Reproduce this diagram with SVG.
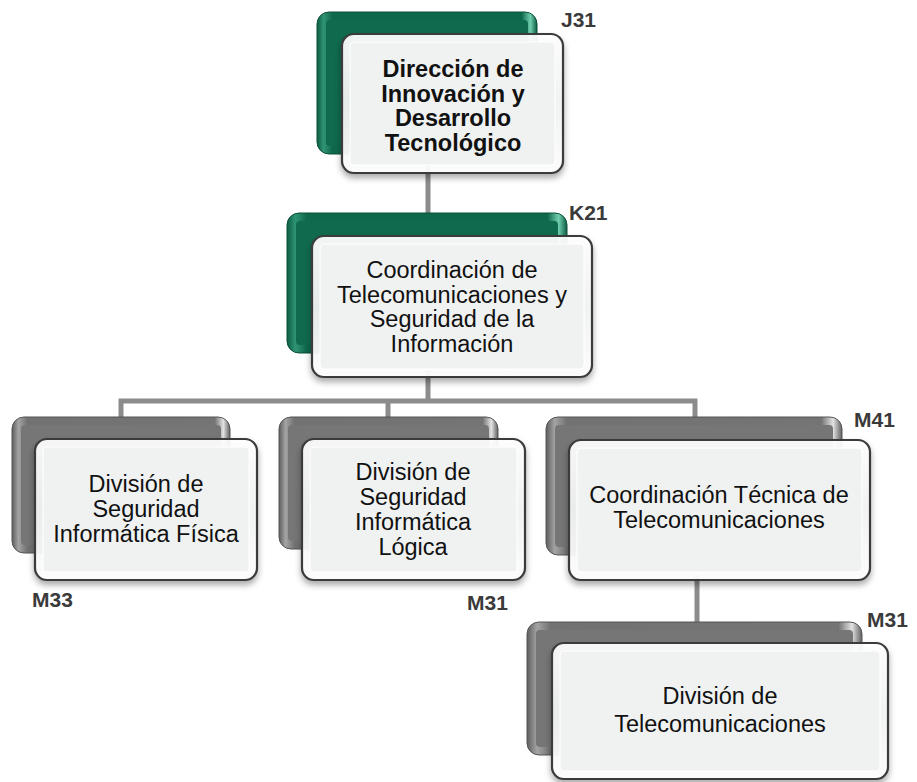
<svg xmlns="http://www.w3.org/2000/svg" width="917" height="782" viewBox="0 0 917 782">
<defs>
<linearGradient id="gGreen" x1="0" y1="0" x2="1" y2="0">
<stop offset="0" stop-color="#0b5c43"/>
<stop offset="0.03" stop-color="#2f9474"/>
<stop offset="0.07" stop-color="#0e684c"/>
<stop offset="0.93" stop-color="#0e684c"/>
<stop offset="0.97" stop-color="#6fcfae"/>
<stop offset="1" stop-color="#0b5c43"/>
</linearGradient>
<linearGradient id="gGray" x1="0" y1="0" x2="1" y2="0">
<stop offset="0" stop-color="#5e5e5e"/>
<stop offset="0.03" stop-color="#a4a4a4"/>
<stop offset="0.07" stop-color="#727272"/>
<stop offset="0.93" stop-color="#747474"/>
<stop offset="0.97" stop-color="#e2e2e2"/>
<stop offset="1" stop-color="#606060"/>
</linearGradient>
<linearGradient id="gFront" x1="0" y1="0" x2="0" y2="1">
<stop offset="0" stop-color="#ffffff"/>
<stop offset="0.5" stop-color="#f3f4f4"/>
<stop offset="1" stop-color="#ffffff"/>
</linearGradient>
<filter id="sh" x="-10%" y="-10%" width="120%" height="130%">
<feDropShadow dx="0" dy="4" stdDeviation="3" flood-color="#000" flood-opacity="0.35"/>
</filter>
</defs>
<style>
.conn{stroke:#8c8c8c;stroke-width:5;fill:none}
.backG{fill:url(#gGreen);stroke:#0a4f3a;stroke-width:1}
.backY{fill:url(#gGray);stroke:#555;stroke-width:1}
.inG{fill:#0f6a4e}
.inY{fill:#767676}
.front{fill:url(#gFront);fill-opacity:0.93;stroke:#3a3a3a;stroke-width:2.2}
.inner{fill:#f0f2f2;stroke:#ffffff;stroke-width:1}
.t{font-family:"Liberation Sans",Arial,sans-serif;font-size:23.5px;fill:#111;text-anchor:middle}
.tb{font-family:"Liberation Sans",Arial,sans-serif;font-size:23.5px;font-weight:bold;fill:#111;text-anchor:middle}
.lbl{font-family:"Liberation Sans",Arial,sans-serif;font-size:21px;font-weight:bold;fill:#3a3a3a}
</style>
<g id="connectors">
<path class="conn" d="M428,150 V240"/>
<path class="conn" d="M428,370 V401 M121,420 V401 H695 V425 M388,401 V425"/>
<path class="conn" d="M697,575 V630"/>
</g>
<g id="j31">
<rect class="backG" x="317" y="12" width="220" height="142" rx="12"/>
<rect class="inG" x="326" y="20" width="202" height="126" rx="4"/>
<g filter="url(#sh)">
<rect class="front" x="342" y="34" width="221" height="139" rx="12"/>
<rect class="inner" x="350" y="42" width="205" height="123" rx="4"/>
</g>
<text class="tb" x="453" y="77">Dirección de</text>
<text class="tb" x="453" y="101.5">Innovación y</text>
<text class="tb" x="453" y="126">Desarrollo</text>
<text class="tb" x="453" y="150.5">Tecnológico</text>
<text class="lbl" x="561" y="27">J31</text>
</g>
<g id="k21">
<rect class="backG" x="287" y="213" width="280" height="140" rx="12"/>
<rect class="inG" x="296" y="221" width="262" height="124" rx="4"/>
<g filter="url(#sh)">
<rect class="front" x="312" y="236" width="280" height="141" rx="12"/>
<rect class="inner" x="320" y="244" width="264" height="125" rx="4"/>
</g>
<text class="t" x="452" y="278">Coordinación de</text>
<text class="t" x="452" y="302.5">Telecomunicaciones y</text>
<text class="t" x="452" y="327">Seguridad de la</text>
<text class="t" x="452" y="351.5">Información</text>
<text class="lbl" x="569" y="220">K21</text>
</g>
<g id="m33">
<rect class="backY" x="12" y="417" width="218" height="136" rx="12"/>
<rect class="inY" x="21" y="425" width="200" height="120" rx="4"/>
<g filter="url(#sh)">
<rect class="front" x="35" y="439" width="222" height="141" rx="12"/>
<rect class="inner" x="43" y="447" width="206" height="125" rx="4"/>
</g>
<text class="t" x="146" y="492">División de</text>
<text class="t" x="146" y="517">Seguridad</text>
<text class="t" x="146" y="542">Informática Física</text>
<text class="lbl" x="32" y="607">M33</text>
</g>
<g id="m31a">
<rect class="backY" x="279" y="417" width="219" height="132" rx="12"/>
<rect class="inY" x="288" y="425" width="201" height="116" rx="4"/>
<g filter="url(#sh)">
<rect class="front" x="302" y="439" width="223" height="141" rx="12"/>
<rect class="inner" x="310" y="447" width="207" height="125" rx="4"/>
</g>
<text class="t" x="413" y="480">División de</text>
<text class="t" x="413" y="505">Seguridad</text>
<text class="t" x="413" y="530">Informática</text>
<text class="t" x="413" y="555">Lógica</text>
<text class="lbl" x="467" y="610">M31</text>
</g>
<g id="m41">
<rect class="backY" x="546" y="417" width="296" height="138" rx="12"/>
<rect class="inY" x="555" y="425" width="278" height="122" rx="4"/>
<g filter="url(#sh)">
<rect class="front" x="569" y="440" width="301" height="140" rx="12"/>
<rect class="inner" x="577" y="448" width="285" height="124" rx="4"/>
</g>
<text class="t" x="719" y="503">Coordinación Técnica de</text>
<text class="t" x="719" y="528">Telecomunicaciones</text>
<text class="lbl" x="854" y="427">M41</text>
</g>
<g id="m31b">
<rect class="backY" x="527" y="622" width="335" height="133" rx="12"/>
<rect class="inY" x="536" y="630" width="317" height="117" rx="4"/>
<g filter="url(#sh)">
<rect class="front" x="552" y="643" width="336" height="136" rx="12"/>
<rect class="inner" x="560" y="651" width="320" height="120" rx="4"/>
</g>
<text class="t" x="720" y="704">División de</text>
<text class="t" x="720" y="732">Telecomunicaciones</text>
<text class="lbl" x="867" y="627">M31</text>
</g>
</svg>
